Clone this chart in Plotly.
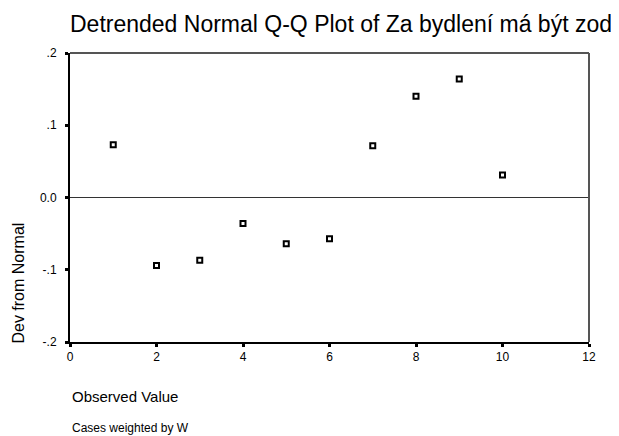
import plotly.graph_objects as go

observed = [1, 2, 3, 4, 5, 6, 7, 8, 9, 10]
dev_from_normal = [0.073, -0.094, -0.087, -0.036, -0.064, -0.057, 0.0715, 0.140, 0.164, 0.031]
x_ticks = [0, 2, 4, 6, 8, 10, 12]
y_ticks = [-0.2, -0.1, 0.0, 0.1, 0.2]
y_tick_labels = ["-.2", "-.1", "0.0", ".1", ".2"]

font = "Liberation Sans, Arial, sans-serif"

fig = go.Figure()
fig.add_trace(go.Scatter(
    x=observed, y=dev_from_normal, mode="markers",
    marker=dict(symbol="square-open", size=5, color="black", line=dict(width=2, color="black")),
    showlegend=False, cliponaxis=False,
))

fig.update_layout(
    width=611, height=428,
    margin=dict(l=62, r=30, t=45, b=94),
    paper_bgcolor="white", plot_bgcolor="white",
    font=dict(family=font, color="black"),
    title=dict(text="Detrended Normal Q-Q Plot of Za bydlení má být zod", x=0, xref="paper",
               xanchor="left", y=1 - 16 / 428, yref="container", yanchor="middle",
               pad=dict(t=0, l=0, b=0, r=0),
               font=dict(size=23, family=font, color="black")),
    xaxis=dict(range=[0, 12], tickvals=x_ticks, ticktext=[str(v) for v in x_ticks],
               showgrid=False, zeroline=False, showline=True, linecolor="black", linewidth=2,
               mirror=False, ticks="outside", ticklen=3, tickwidth=3, tickcolor="black",
               tickfont=dict(size=12), title=None),
    yaxis=dict(range=[-0.2, 0.2], tickvals=y_ticks, ticktext=y_tick_labels,
               showgrid=False, zeroline=True, zerolinecolor="#333333", zerolinewidth=1,
               showline=True, linecolor="black", linewidth=2,
               ticks="outside", ticklen=3, tickwidth=3, tickcolor="black",
               ticklabelstandoff=6,
               tickfont=dict(size=12), title=None),
    shapes=[
        dict(type="line", xref="paper", yref="paper", x0=0, x1=1, y0=1, y1=1,
             line=dict(color="#555555", width=2)),
        dict(type="line", xref="paper", yref="paper", x0=1, x1=1, y0=0, y1=1,
             line=dict(color="#555555", width=2)),
    ],
    annotations=[
        dict(text="Dev from Normal", xref="paper", yref="paper", x=-0.1175, y=0.204,
             xanchor="left", yanchor="middle", textangle=-90, showarrow=False, borderpad=0,
             font=dict(size=16, family=font)),
        dict(text="Observed Value", xref="paper", yref="paper", x=0, y=-0.1903,
             xanchor="left", yanchor="middle", showarrow=False, font=dict(size=15, family=font)),
        dict(text="Cases weighted by W", xref="paper", yref="paper", x=0, y=-0.299,
             xanchor="left", yanchor="middle", showarrow=False, font=dict(size=12, family=font)),
    ],
)

fig.write_html("out.html")
